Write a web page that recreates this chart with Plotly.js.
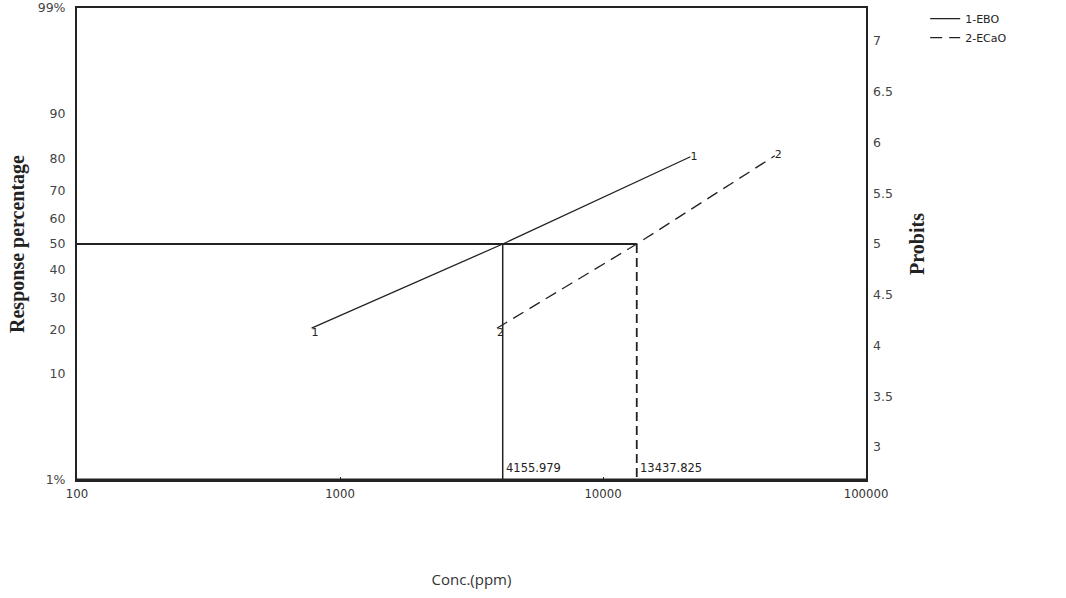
<!DOCTYPE html>
<html><head><meta charset="utf-8">
<script src="https://cdn.plot.ly/plotly-3.0.1.min.js"></script>
<style>html,body{margin:0;padding:0;background:#fff;}#chart{width:1066px;height:598px;}</style>
</head><body><div id="chart"></div>
<script>
// Data (x = concentration ppm, y = probit)
var ebo_conc = [780, 4155.979, 21500];
var ebo_probit = [4.17, 5.0, 5.86];
var ecao_conc = [3950, 13437.825, 45000];
var ecao_probit = [4.17, 5.0, 5.87];
var lc50_values = [4155.979, 13437.825];
var lc50_probit = 5;
var pct_ticks = [1, 10, 20, 30, 40, 50, 60, 70, 80, 90, 99];
var pct_labels = ['1%', '10', '20', '30', '40', '50', '60', '70', '80', '90', '99%'];
var probit_ticks = [3, 3.5, 4, 4.5, 5, 5.5, 6, 6.5, 7];
var x_ticks = [100, 1000, 10000, 100000];

// inverse normal CDF (Acklam) to place percentage ticks on the probit scale
function probit(p) {
  var a=[-3.969683028665376e+01,2.209460984245205e+02,-2.759285104469687e+02,1.383577518672690e+02,-3.066479806614716e+01,2.506628277459239e+00];
  var b=[-5.447609879822406e+01,1.615858368580409e+02,-1.556989798598866e+02,6.680131188771972e+01,-1.328068155288572e+01];
  var c=[-7.784894002430293e-03,-3.223964580411365e-01,-2.400758277161838e+00,-2.549732539343734e+00,4.374664141464968e+00,2.938163982698783e+00];
  var d=[7.784695709041462e-03,3.224671290700398e-01,2.445134137142996e+00,3.754408661907416e+00];
  var pl=0.02425, q, r, z;
  if (p < pl) { q=Math.sqrt(-2*Math.log(p)); z=(((((c[0]*q+c[1])*q+c[2])*q+c[3])*q+c[4])*q+c[5])/((((d[0]*q+d[1])*q+d[2])*q+d[3])*q+1); }
  else if (p <= 1-pl) { q=p-0.5; r=q*q; z=(((((a[0]*r+a[1])*r+a[2])*r+a[3])*r+a[4])*r+a[5])*q/(((((b[0]*r+b[1])*r+b[2])*r+b[3])*r+b[4])*r+1); }
  else { q=Math.sqrt(-2*Math.log(1-p)); z=-(((((c[0]*q+c[1])*q+c[2])*q+c[3])*q+c[4])*q+c[5])/((((d[0]*q+d[1])*q+d[2])*q+d[3])*q+1); }
  return 5 + z;
}
var pct_probits = pct_ticks.map(function(p){ return probit(p/100); });
var yMin = probit(0.01), yMax = probit(0.99);
var ink = '#222';
var lblFont = {family: 'DejaVu Sans', size: 11, color: ink};

var traces = [
  {x: ebo_conc, y: ebo_probit, type: 'scatter', mode: 'lines+text', name: '1-EBO',
   text: ['1', '', '1'], textposition: ['bottom right', 'middle right', 'middle right'], textfont: lblFont,
   line: {color: ink, width: 1.3}, hoverinfo: 'x+y'},
  {x: ecao_conc, y: ecao_probit, type: 'scatter', mode: 'lines+text', name: '2-ECaO',
   text: ['2', '', '2'], textposition: ['bottom right', 'middle right', 'middle right'], textfont: lblFont,
   line: {color: ink, width: 1.3, dash: '12px,7px'}, hoverinfo: 'x+y'},
  {x: [100, lc50_values[0], lc50_values[1]], y: [lc50_probit, lc50_probit, lc50_probit], type: 'scatter', mode: 'lines',
   line: {color: ink, width: 2}, showlegend: false, hoverinfo: 'skip'},
  {x: [lc50_values[0], lc50_values[0]], y: [lc50_probit, yMin], type: 'scatter', mode: 'lines',
   line: {color: ink, width: 1.5}, showlegend: false, hoverinfo: 'skip'},
  {x: [lc50_values[1], lc50_values[1]], y: [lc50_probit, yMin], type: 'scatter', mode: 'lines',
   line: {color: ink, width: 1.8, dash: '9px,5px'}, showlegend: false, hoverinfo: 'skip'},
  {x: [x_ticks[0]], y: [probit_ticks[0]], yaxis: 'y2', type: 'scatter', mode: 'markers',
   marker: {opacity: 0}, showlegend: false, hoverinfo: 'skip'}
];

var annotations = lc50_values.map(function(v){
  return {x: Math.log10(v), y: yMin, xref: 'x', yref: 'y', text: String(v), showarrow: false,
          xanchor: 'left', yanchor: 'bottom', xshift: 1, yshift: 3,
          font: {family: 'DejaVu Sans', size: 11.5, color: ink}};
});

var layout = {
  width: 1066, height: 598,
  margin: {l: 77, r: 200, t: 8, b: 118, autoexpand: false},
  paper_bgcolor: '#fff', plot_bgcolor: '#fff',
  showlegend: true,
  legend: {x: 1.075, y: 1.008, xanchor: 'left', yanchor: 'top', font: {family: 'DejaVu Sans', size: 11, color: ink},
           tracegroupgap: 0, itemwidth: 30, bgcolor: 'rgba(0,0,0,0)'},
  xaxis: {type: 'log', range: [2, 5], tickvals: x_ticks, ticktext: x_ticks.map(String), automargin: false,
          showgrid: false, zeroline: false, showline: true, linecolor: ink, linewidth: 2, mirror: true,
          ticks: 'inside', ticklen: 3, tickcolor: ink,
          tickfont: {family: 'DejaVu Sans Condensed, DejaVu Sans', size: 13, color: '#333'},
          title: {text: 'Conc.(ppm)', standoff: 75, font: {family: 'Open Sans', size: 15, color: '#333'}}},
  yaxis: {range: [yMin, yMax], tickvals: pct_probits, ticktext: pct_labels, automargin: false,
          showgrid: false, zeroline: false, showline: true, linecolor: ink, linewidth: 2, mirror: true,
          ticks: '', ticklabelstandoff: 7, tickfont: {family: 'DejaVu Sans', size: 12.5, color: '#444'},
          title: {text: 'Response percentage', standoff: 8, font: {family: 'Liberation Serif', size: 20, color: ink, weight: 'bold'}}},
  yaxis2: {overlaying: 'y', side: 'right', range: [yMin, yMax], tickvals: probit_ticks, ticktext: probit_ticks.map(String),
           automargin: false, showgrid: false, zeroline: false, showline: false, ticks: '', ticklabelstandoff: 6,
           tickfont: {family: 'DejaVu Sans', size: 12.5, color: '#444'},
           title: {text: 'Probits', standoff: 18, font: {family: 'Liberation Serif', size: 20, color: ink, weight: 'bold'}}},
  shapes: [{type: 'line', xref: 'paper', yref: 'paper', x0: 0, x1: 1, y0: 0, y1: 0, line: {color: ink, width: 3}}],
  annotations: annotations
};

Plotly.newPlot('chart', traces, layout, {displayModeBar: false});
</script>
</body></html>
